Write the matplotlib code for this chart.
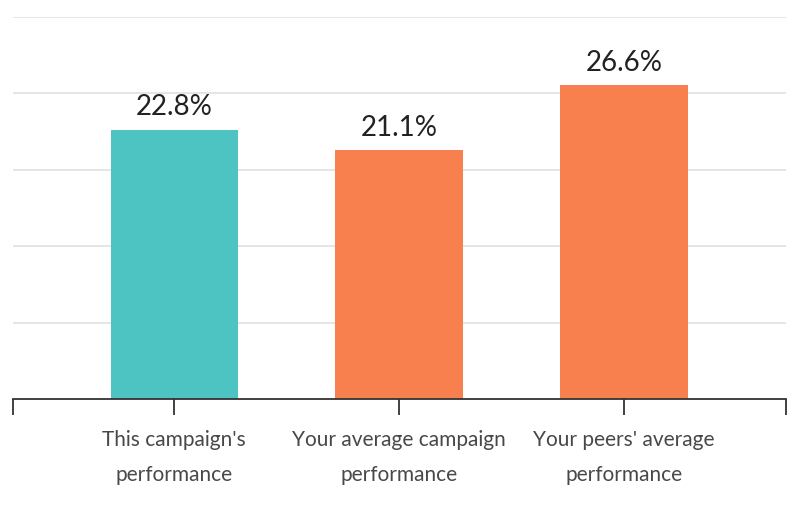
import numpy as np
import matplotlib
matplotlib.use("Agg")
import matplotlib.pyplot as plt

# data
categories = ["This campaign's\nperformance",
              "Your average campaign\nperformance",
              "Your peers' average\nperformance"]
values = [22.8, 21.1, 26.6]
value_labels = ["22.8%", "21.1%", "26.6%"]
colors = ["#4DC4C1", "#F8804F", "#F8804F"]

plt.rcParams['font.family'] = ['Lato', 'DejaVu Sans']

fig = plt.figure(figsize=(7.97, 5.19), dpi=100)
ax = fig.add_axes([13 / 797, 120 / 519, 773 / 797, 382 / 519])

x = np.arange(len(values))
ax.bar(x, values, width=0.565, color=colors, zorder=3)

for xi, v, lab in zip(x, values, value_labels):
    ax.annotate(lab, (xi, v), xytext=(0, 7), textcoords='offset points',
                ha='center', va='bottom', fontsize=20, color='#222222')

ymax = 32.4
ax.set_ylim(0, ymax)
xmin, xmax = -0.716, 2.72
ax.set_xlim(xmin, xmax)

for g in np.linspace(0, ymax, 6)[1:]:
    ax.axhline(g, color='#e3e3e3', lw=1.3, zorder=1)

ax.set_xticks([xmin] + list(x) + [xmax])
ax.set_xticklabels([''] + categories + [''], fontsize=15, color='#484848',
                   linespacing=1.9)
ax.tick_params(axis='x', direction='out', length=11.5, width=1.3, color='#333333', pad=11)
ax.set_yticks([])

for s in ['top', 'left', 'right']:
    ax.spines[s].set_visible(False)
ax.spines['bottom'].set_color('#333333')
ax.spines['bottom'].set_linewidth(1.3)
ax.spines['bottom'].set_zorder(4)

fig.savefig('out.png', dpi=100)
